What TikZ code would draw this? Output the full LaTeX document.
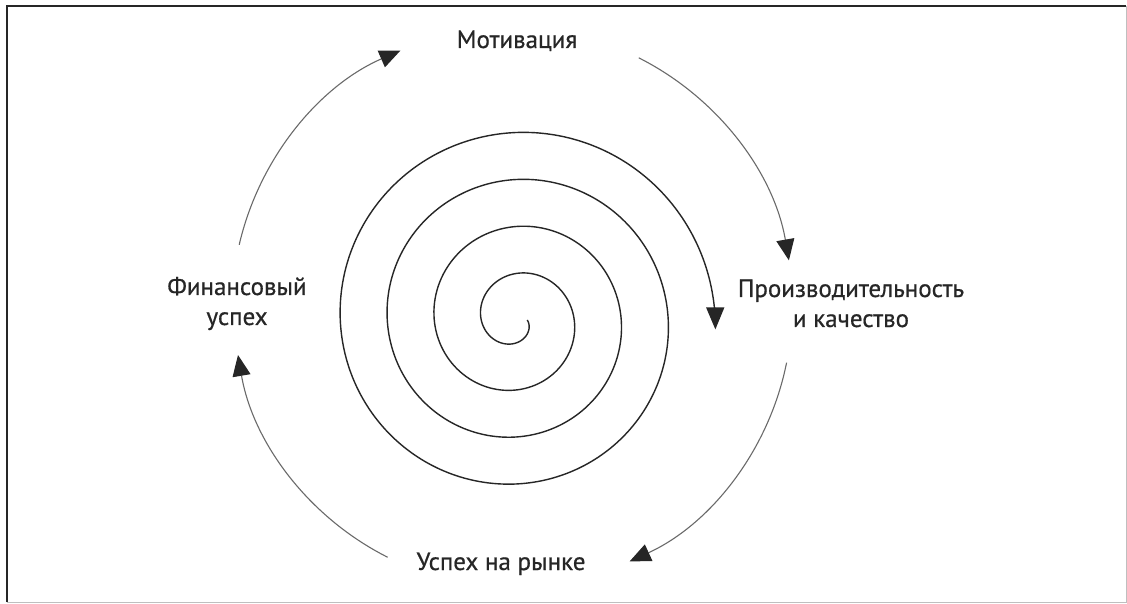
\documentclass[tikz,border=0pt]{standalone}
\usepackage{fontspec}
\setmainfont{PT Sans}
\newfontfamily\lblfont{PT Sans}[FakeBold=0.6]
\usetikzlibrary{arrows.meta,calc}
\definecolor{ink}{HTML}{262626}
\definecolor{arcgray}{HTML}{6A6A6A}
\tikzset{
  lbl/.style={font=\lblfont\fontsize{25}{30}\selectfont, text=ink, inner sep=0pt, align=center},
  cyclearrow/.style={draw=arcgray, line width=1.1pt, -{Triangle[length=21pt,width=18pt,fill=ink,color=ink]}},
  spiralline/.style={draw=ink, line width=1.4pt, -{Triangle[length=22pt,width=18pt,fill=ink,color=ink]}},
}
\begin{document}
\begin{tikzpicture}[x=1pt,y=1pt]
\useasboundingbox (0,0) rectangle (1127,603);
\fill[white] (0,0) rectangle (1127,603);
% frame
\draw[line width=1pt, color=black!25] (7,1) -- (1126,1) -- (1126,597);
\draw[line width=2.6pt, color=black!85] (7,1) -- (7,597) -- (1126,597);
% centre of the cycle and of the spiral
\coordinate (c) at (513,295);
\coordinate (s) at (516,283);
% labels (anchor base = baseline of the last line)
\node[lbl, anchor=base] (mot) at (517,555) {Мотивация};
\node[lbl, anchor=base] (prod) at (851,276) {Производительность\\и качество};
\node[lbl, anchor=base] (rynok) at (501,33) {Успех на рынке};
\node[lbl, anchor=base] (fin) at (237,278) {Финансовый\\успех};
% cycle arrows
\coordinate (a1s) at ($(c)+(63.3:280)$);
\coordinate (a2s) at ($(c)+(-11.3:279)$);
\coordinate (a3s) at ($(c)+(243.3:279)$);
\coordinate (a4s) at ($(c)+(167:281)$);
\draw[cyclearrow] (a1s) arc[start angle=63.3, end angle=9.8, radius=280];
\draw[cyclearrow] (a2s) arc[start angle=-11.3, end angle=-65.3, radius=279];
\draw[cyclearrow] (a3s) arc[start angle=243.3, end angle=189.7, radius=279];
\draw[cyclearrow] (a4s) arc[start angle=167, end angle=113.6, radius=281];
% spiral
\draw[spiralline] plot[domain=0:25.183, samples=500, smooth, variable=\t]
  ({516+(11.25+7.48*\t)*cos(\t r)}, {283-(11.25+7.48*\t)*sin(\t r)});
\end{tikzpicture}
\end{document}
